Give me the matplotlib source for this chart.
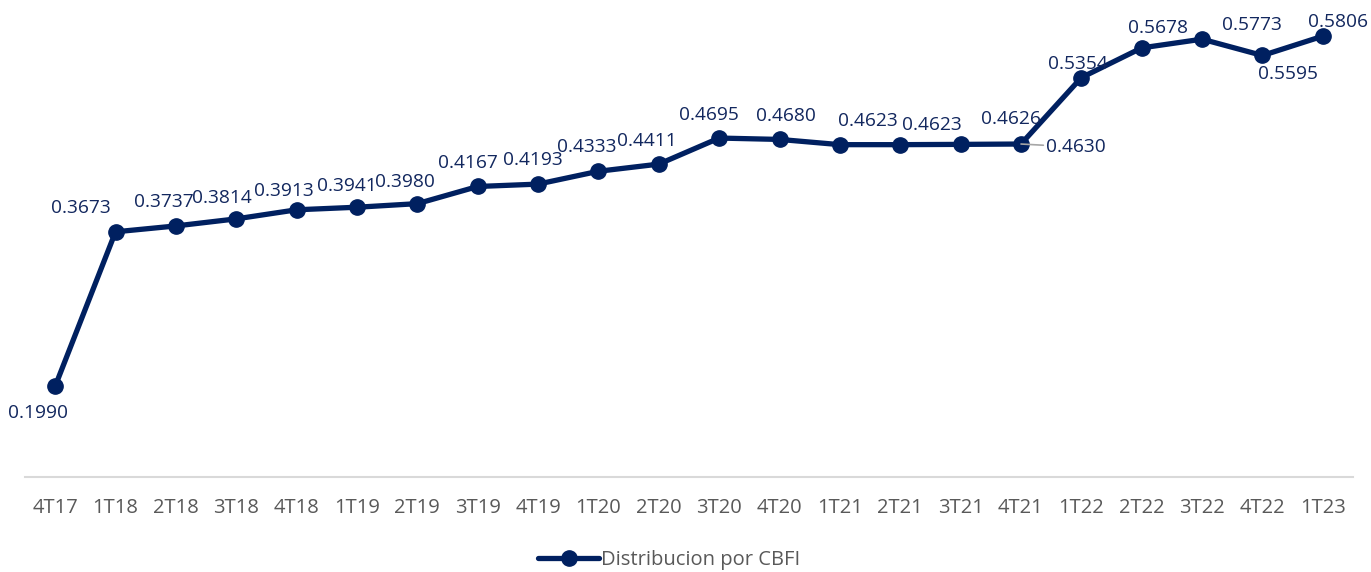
import matplotlib.pyplot as plt

# Datos
trimestres = ["4T17", "1T18", "2T18", "3T18", "4T18", "1T19", "2T19", "3T19", "4T19",
              "1T20", "2T20", "3T20", "4T20", "1T21", "2T21", "3T21", "4T21",
              "1T22", "2T22", "3T22", "4T22", "1T23"]
distribucion = [0.1990, 0.3673, 0.3737, 0.3814, 0.3913, 0.3941, 0.3980, 0.4167, 0.4193,
                0.4333, 0.4411, 0.4695, 0.4680, 0.4623, 0.4623, 0.4626, 0.4630,
                0.5354, 0.5678, 0.5773, 0.5595, 0.5806]

# Desplazamiento de etiquetas (pixeles)
offsets = [(-17, -27), (-35, 24), (-12, 24), (-14, 21), (-13, 19), (-10, 21), (-12, 22),
           (-10, 23), (-5, 24), (-12, 24), (-12, 23), (-10, 23), (6, 23), (28, 24),
           (32, 20), (50, 25), (55, -3), (-3, 14), (16, 20), (50, 14), (26, -19), (15, 14)]

azul = "#002060"
texto_azul = "#12275e"
gris = "#595959"

plt.rcParams['font.family'] = ['Open Sans', 'DejaVu Sans']

fig = plt.figure(figsize=(13.71, 5.72), dpi=100)
ax = fig.add_axes([25 / 1371, 95 / 572, 1328 / 1371, 477 / 572])

x = list(range(len(trimestres)))
ax.plot(x, distribucion, color=azul, linewidth=3.8, marker='o', markersize=11,
        label="Distribucion por CBFI", solid_capstyle='round')

for i, v in enumerate(distribucion):
    dx, dy = offsets[i]
    kw = {}
    if trimestres[i] == "4T21":
        kw['arrowprops'] = dict(arrowstyle='-', color='#a6a6a6', lw=1.2,
                                shrinkA=0, shrinkB=0)
    ax.annotate(f"{v:.4f}", (i, v), xytext=(dx, dy), textcoords='offset pixels',
                ha='center', va='center', fontsize=13.8, color=texto_azul, **kw)

ax.set_xlim(-0.5, len(trimestres) - 0.5)
ax.set_ylim(0.1, 0.62)
ax.set_xticks(x)
ax.set_xticklabels(trimestres, fontsize=14.5, color=gris)
ax.tick_params(axis='x', length=0, pad=15)
ax.set_yticks([])
for s in ['top', 'right', 'left']:
    ax.spines[s].set_visible(False)
ax.spines['bottom'].set_color('#d9d9d9')
ax.spines['bottom'].set_linewidth(1.5)

leg = ax.legend(loc='center', bbox_to_anchor=(0.485, -0.175), frameon=False,
                fontsize=14.5, handlelength=3.0, handletextpad=0.1)
for t in leg.get_texts():
    t.set_color(gris)

fig.savefig("out.png", dpi=100)
